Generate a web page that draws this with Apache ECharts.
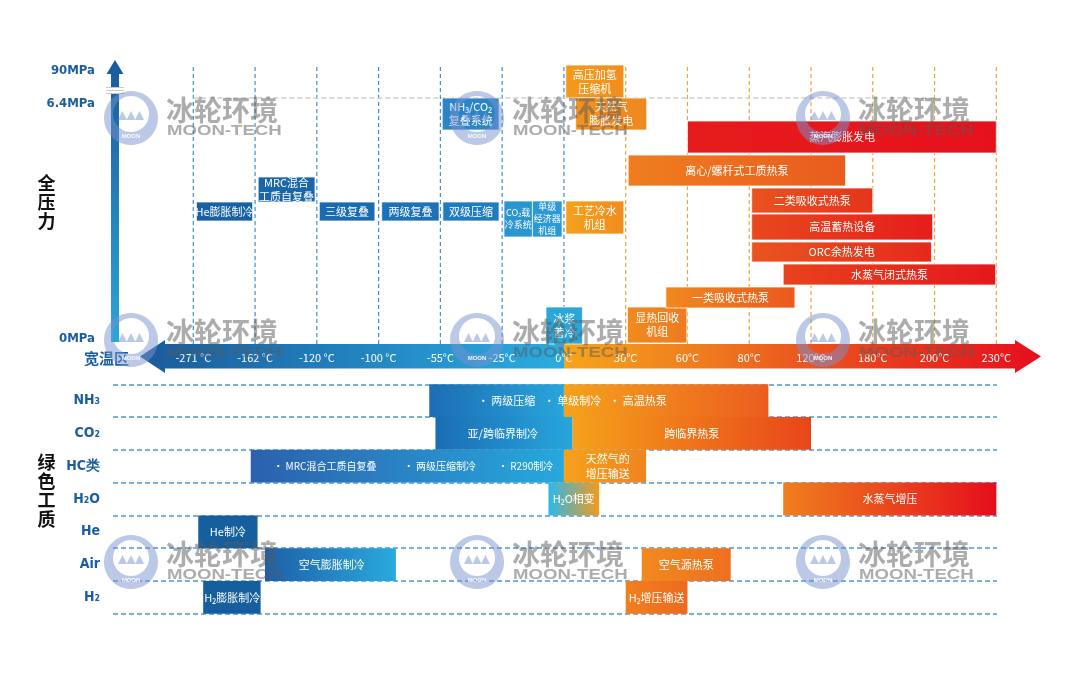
<!DOCTYPE html>
<html><head><meta charset="utf-8">
<script src="https://cdn.jsdelivr.net/npm/echarts@6/dist/echarts.min.js"></script>
<style>html,body{margin:0;padding:0;background:#fff}#c{width:1080px;height:681px}</style>
</head><body><div id="c"></div>
<script>
// ---------- DATA ----------
const tempLabels = ['-271 °C','-162 °C','-120 °C','-100 °C','-55°C','-25°C','0°C','30°C','60°C','80°C','120°C','180°C','200°C','230°C'];
const pressureTicks = [[5,'0MPa'],[240,'6.4MPa'],[273,'90MPa']];
const pressureRefLine = [[0, 12, 246]]; // 6.4MPa reference line: from tick 0 to tick 12
// [name, startTick, endTick, lowLevel, highLevel]
const topBoxes = [
  ['He膨胀制冷', 0.05, 0.96, 123, 142],
  ['MRC混合\n工质自复叠', 1.05, 1.97, 142, 167],
  ['三级复叠', 2.04, 2.94, 123, 142],
  ['两级复叠', 3.05, 3.98, 123, 142],
  ['双级压缩', 4.04, 4.95, 123, 142],
  ['NH₃/CO₂\n复叠系统', 4.03, 4.95, 214, 246],
  ['CO₂载\n冷系统', 5.03, 5.49, 107, 143],
  ['单级\n经济器\n机组', 5.49, 5.97, 107, 143],
  ['冰浆\n蓄冷', 5.71, 6.30, 0, 37],
  ['高压加氢\n压缩机', 6.03, 6.97, 246, 279],
  ['工艺冷水\n机组', 6.03, 6.97, 110, 143],
  ['天然气\n膨胀发电', 6.19, 7.34, 214, 246],
  ['显热回收\n机组', 7.03, 7.99, 1, 37],
  ['离心/螺杆式工质热泵', 7.04, 10.56, 158, 189],
  ['一类吸收式热泵', 7.65, 9.74, 36, 57],
  ['蒸汽膨胀发电', 8.0, 13.0, 191, 223],
  ['二类吸收式热泵', 9.04, 11.0, 131, 156],
  ['高温蓄热设备', 9.04, 11.97, 104, 130],
  ['ORC余热发电', 9.04, 11.95, 82, 102],
  ['水蒸气闭式热泵', 9.55, 12.99, 59, 80]
];
const fluids = ['NH₃','CO₂','HC类','H₂O','He','Air','H₂'];
// [row, startTick, endTick]
const fluidBars = [
  [0, 3.82, 6.0], [0, 6.0, 9.31],
  [1, 3.92, 6.14], [1, 6.14, 10.0],
  [2, 0.93, 6.0], [2, 6.0, 7.33],
  [3, 5.75, 6.57], [3, 9.55, 13.0],
  [4, 0.08, 1.04],
  [5, 1.16, 3.28], [5, 7.26, 8.7],
  [6, 0.16, 1.09], [6, 7.0, 8.0]
];
// [row, centerTick, text]
const fluidLabels = [
  [0, 5.07, '· 两级压缩'], [0, 6.14, '· 单级制冷'], [0, 7.2, '· 高温热泵'],
  [1, 5.01, '亚/跨临界制冷'], [1, 8.07, '跨临界热泵'],
  [2, 2.13, '· MRC混合工质自复叠'], [2, 3.99, '· 两级压缩制冷'], [2, 5.38, '· R290制冷'], [2, 6.71, '天然气的\n增压输送'],
  [3, 6.16, 'H₂O相变'], [3, 11.28, '水蒸气增压'],
  [4, 0.56, 'He制冷'],
  [5, 2.24, '空气膨胀制冷'], [5, 7.98, '空气源热泵'],
  [6, 0.63, 'H₂膨胀制冷'], [6, 7.5, 'H₂增压输送']
];

// ---------- STYLES ----------
const topBoxColors = [
  ['#1862a4','#1862a4'],['#1967a9','#1967a9'],['#1a6caf','#1a6caf'],['#1c72b5','#1c72b5'],['#1f7cbe','#1f7cbe'],
  ['#2a84c6','#2a84c6'],['#2b95d2','#2b95d2'],['#2b99d5','#2b99d5'],['#2aa6d9','#2aa6d9'],
  ['#f39a1d','#f08e1e'],['#f5a11c','#f08c1e'],['#f1921e','#ee881e'],['#f08a1e','#ee7a1f'],
  ['#ef7e1f','#ea5b1e'],['#f0891e','#ea591e'],['#e61c1c','#e5121c'],['#e9531e','#e6341c'],
  ['#e8491e','#e51d1c'],['#e9551f','#e5291c'],['#e8421e','#e5171c']
];
const topBoxFont = [11,11,11,11,11,11,9,9,11,11,11,11,11,11,11,11,11,11,11,11];
const fluidBarColors = [
  ['#1d6db3','#28a5db'],['#f5a21b','#eb5d1f'],
  ['#1b6db4','#27a6dc'],['#f5a11b','#e8461a'],
  ['#2c61ad','#27a8dd'],['#f5a21b','#ef8420'],
  ['#2bb9eb','#f39a1c'],['#ef7f1e','#e50e1c'],
  ['#165f9f','#165f9f'],
  ['#1e5fa7','#29aadd'],['#f18a1f','#ee6f1f'],
  ['#165f9f','#165f9f'],['#f17f1e','#ee6a1e']
];
const FONT = '"Noto Sans CJK SC","Noto Sans","DejaVu Sans",sans-serif';
const NARROW = '"Liberation Sans Narrow","DejaVu Sans Condensed","Liberation Sans",sans-serif';
const LG = (a,b,v) => new echarts.graphic.LinearGradient(0,0,v?0:1,v?1:0,[{offset:0,color:a},{offset:1,color:b}]);

// ---------- RENDERERS ----------
function renderVLine(params, api) {
  const x = api.value(0);
  const a = api.coord([x, 0]), b = api.coord([x, 279]);
  return {type:'line', shape:{x1:a[0],y1:a[1],x2:b[0],y2:b[1]},
    style:{stroke: x <= 6 ? '#3f8fd2' : '#eea43c', lineWidth:1.2, lineDash:[4,3]}};
}
function renderRefLine(params, api) {
  const a = api.coord([api.value(0), api.value(2)]), b = api.coord([api.value(1), api.value(2)]);
  return {type:'line', shape:{x1:a[0],y1:a[1],x2:b[0],y2:b[1]},
    style:{stroke:'#cfcfcf', lineWidth:1.5, lineDash:[5,3]}};
}
function renderBox(params, api) {
  const i = params.dataIndex;
  const p0 = api.coord([api.value(0), api.value(3)]);
  const p1 = api.coord([api.value(1), api.value(2)]);
  const w = p1[0]-p0[0], h = p1[1]-p0[1];
  const c = topBoxColors[i], fs = topBoxFont[i];
  return {type:'group', children:[
    {type:'rect', shape:{x:p0[0],y:p0[1],width:w,height:h}, style:{fill:LG(c[0],c[1]), stroke:'rgba(255,255,255,0.75)', lineWidth:1}},
    {type:'text', style:{text:topBoxes[i][0], x:p0[0]+w/2, y:p0[1]+h/2, align:'center', verticalAlign:'middle', fill:'#fff', font:fs+'px '+FONT, lineHeight:fs+3}}
  ]};
}
function renderFluidBar(params, api) {
  const i = params.dataIndex;
  const row = api.value(0);
  const a = api.coord([api.value(1), row]), b = api.coord([api.value(2), row]);
  const h = api.size([0,1])[1];
  const c = fluidBarColors[i];
  return {type:'rect', shape:{x:a[0], y:a[1]-h/2, width:b[0]-a[0], height:h}, style:{fill:LG(c[0],c[1])}};
}
function renderFluidLabel(params, api) {
  const i = params.dataIndex;
  const p = api.coord([api.value(1), api.value(0)]);
  const t = fluidLabels[i][2];
  const fs = (fluidLabels[i][0] === 2 && t.indexOf('·') === 0) ? 10 : 11;
  return {type:'text', style:{text:t, x:p[0], y:p[1], align:'center', verticalAlign:'middle', fill:'#fff', font:fs+'px '+FONT, lineHeight:15}};
}

// ---------- DECORATION ----------
const wmPos = [[131,118],[477,118],[823,118],[131,340],[477,340],[823,340],[131,562],[477,562],[823,562]];
// crescent ring: outer circle then inner (offset) circle traversed the other way -> hole
const ringPts = (function(){
  const pts = [], n = 48;
  for (let k = 0; k <= n; k++) { const a = 2*Math.PI*k/n; pts.push([27*Math.cos(a), 27*Math.sin(a)]); }
  for (let k = n; k >= 0; k--) { const a = 2*Math.PI*k/n; pts.push([18*Math.cos(a), -4 + 18*Math.sin(a)]); }
  return pts;
})();
function watermark(cx, cy) {
  const z = 100, logo = 'rgba(120,145,205,0.5)', gray = 'rgba(90,90,90,0.5)';
  return {type:'group', x:cx, y:cy, children:[
    {type:'polygon', z, shape:{points:ringPts}, style:{fill:logo}},
    {type:'polygon', z, shape:{points:[[-13,2],[-8.5,-7],[-4,2]]}, style:{fill:logo}},
    {type:'polygon', z, shape:{points:[[-4.5,2],[0,-7],[4.5,2]]}, style:{fill:logo}},
    {type:'polygon', z, shape:{points:[[4,2],[8.5,-7],[13,2]]}, style:{fill:logo}},
    {type:'text', z, style:{text:'MOON', x:0, y:18.5, fill:'rgba(255,255,255,0.9)', font:'bold 6px sans-serif', align:'center', verticalAlign:'middle'}},
    {type:'text', z, style:{text:'冰轮环境', x:35, y:-7.5, font:'bold 28px '+FONT, fill:gray, verticalAlign:'middle'}},
    {type:'text', z, x:36, y:13, scaleX:1.24, style:{text:'MOON-TECH', x:0, y:0, font:'bold 15px "Liberation Sans",Arial,sans-serif', fill:gray, verticalAlign:'middle'}}
  ]};
}
const decor = [
  // vertical pressure arrow
  {type:'polygon', z:1, shape:{points:[[115,60],[123.5,74],[119,74],[119,342],[111,342],[111,74],[106.5,74]]},
    style:{fill:LG('#1a5a9c','#2aa6da',true)}},
  {type:'rect', z:2, shape:{x:106,y:87,width:18,height:7}, style:{fill:'#fff'}},
  {type:'line', z:2, shape:{x1:106,y1:87.5,x2:124,y2:87.5}, style:{stroke:'#c8c8c8',lineWidth:1}},
  {type:'line', z:2, shape:{x1:106,y1:90.5,x2:124,y2:90.5}, style:{stroke:'#c8c8c8',lineWidth:1}},
  {type:'line', z:2, shape:{x1:106,y1:93.5,x2:124,y2:93.5}, style:{stroke:'#c8c8c8',lineWidth:1}},
  // temperature band
  {type:'polygon', z:1, shape:{points:[[140,356.5],[165,340],[165,344],[564,344],[564,368.5],[165,368.5],[165,373]]},
    style:{fill:LG('#1a5a9c','#2aace1')}},
  {type:'polygon', z:1, shape:{points:[[564,344],[1015,344],[1015,340],[1041,356.5],[1015,373],[1015,368.5],[564,368.5]]},
    style:{fill:new echarts.graphic.LinearGradient(0,0,1,0,[{offset:0,color:'#f6a51b'},{offset:0.3,color:'#ef7a1f'},{offset:0.55,color:'#ea4d1e'},{offset:1,color:'#e50e1e'}])}},
  {type:'text', z:5, style:{text:'宽温区', x:106.5, y:358, align:'center', verticalAlign:'middle', font:'bold 15px '+FONT, fill:'#1b5ea0'}},
  {type:'text', z:5, style:{text:'全\n压\n力', x:46.5, y:202, align:'center', verticalAlign:'middle', font:'bold 18px '+FONT, lineHeight:19, fill:'#111'}},
  {type:'text', z:5, style:{text:'绿\n色\n工\n质', x:46.5, y:491, align:'center', verticalAlign:'middle', font:'bold 18px '+FONT, lineHeight:19, fill:'#111'}}
].concat(wmPos.map(p => watermark(p[0], p[1])));

// ---------- CHART ----------
const chart = echarts.init(document.getElementById('c'));
const pMap = {}; pressureTicks.forEach(t => pMap[t[0]] = t[1]);
chart.setOption({
  animation:false,
  backgroundColor:'#fff',
  graphic:{elements:decor},
  grid:[
    {left:69.77, width:988.3, top:64, height:306},
    {left:113, width:884, top:384.3, height:229.4}
  ],
  xAxis:[
    {gridIndex:0, type:'value', min:-2, max:14, interval:1, z:10,
     axisLine:{show:false}, axisTick:{show:false}, splitLine:{show:false},
     axisLabel:{inside:true, margin:7, color:'#fff', fontSize:11, fontFamily:FONT,
       formatter:v => tempLabels[Math.round(v)] || ''}},
    {gridIndex:1, type:'value', min:-1.3, max:13.011, show:false}
  ],
  yAxis:[
    {gridIndex:0, type:'value', min:-26, max:280, offset:-29.2,
     axisLine:{show:false}, axisTick:{show:false}, splitLine:{show:false},
     axisLabel:{customValues:pressureTicks.map(t => t[0]), margin:4, color:'#1b5ea0', fontWeight:'bold', fontSize:13, fontFamily:NARROW,
       formatter:v => pMap[v] || ''}},
    {gridIndex:1, type:'category', data:fluids, inverse:true,
     axisLine:{show:false}, axisTick:{show:false},
     splitLine:{show:true, lineStyle:{type:[5,3], color:'#4a98d6', width:1.5}},
     axisLabel:{margin:13, color:'#1b5ea0', fontWeight:'bold', fontSize:14, fontFamily:NARROW}}
  ],
  series:[
    {type:'custom', xAxisIndex:0, yAxisIndex:0, renderItem:renderVLine, data:tempLabels.map((_, i) => [i]), z:2},
    {type:'custom', xAxisIndex:0, yAxisIndex:0, renderItem:renderRefLine, data:pressureRefLine, z:2},
    {type:'custom', xAxisIndex:0, yAxisIndex:0, renderItem:renderBox, data:topBoxes.map(b => [b[1],b[2],b[3],b[4]]), z:3},
    {type:'custom', xAxisIndex:1, yAxisIndex:1, renderItem:renderFluidBar, data:fluidBars, z:3},
    {type:'custom', xAxisIndex:1, yAxisIndex:1, renderItem:renderFluidLabel, data:fluidLabels.map(l => [l[0], l[1]]), z:4}
  ]
});
</script></body></html>
